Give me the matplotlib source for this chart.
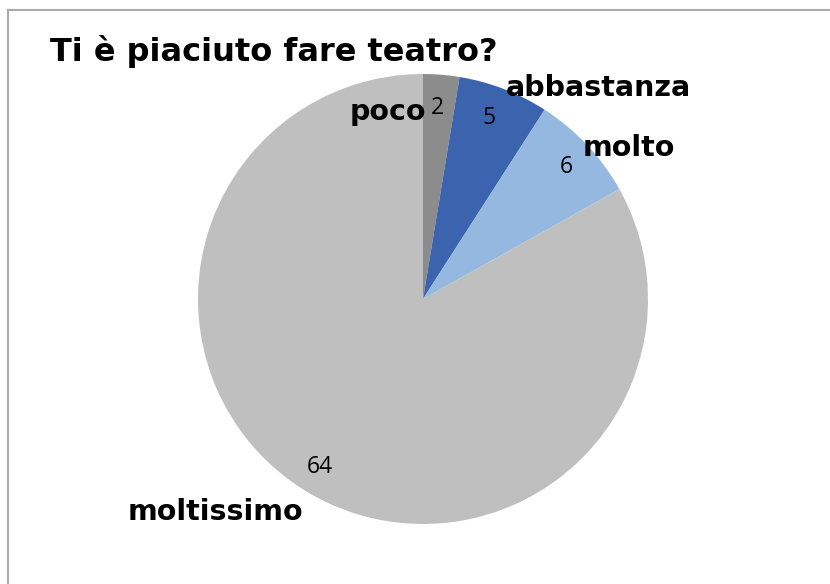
import numpy as np
import matplotlib.pyplot as plt
from matplotlib.lines import Line2D

categories = ['poco', 'abbastanza', 'molto', 'moltissimo']
values = [2, 5, 6, 64]
colors = ['#8c8c8c', '#3c64ae', '#95b8e0', '#bfbfbf']
title = 'Ti è piaciuto fare teatro?'

# label placement (angle in degrees, radius) like the Excel "best fit"
name_pos = [(100.6, 0.845), (50.3, 1.218), (36.2, 1.136), (225.7, 1.323)]
value_pos = [(85.8, 0.85), (70.0, 0.856), (42.7, 0.865), (238.5, 0.876)]

W, H = 830, 584
fig = plt.figure(figsize=(W / 100, H / 100), dpi=100)

cx, cy, r = 423, 299, 225
ax = fig.add_axes([(cx - r) / W, (H - cy - r) / H, 2 * r / W, 2 * r / H])
ax.pie(values, colors=colors, startangle=90, counterclock=False,
       wedgeprops=dict(linewidth=0))
ax.set_xlim(-1, 1)
ax.set_ylim(-1, 1)
ax.set_aspect('equal')

for lab, (a, rr) in zip(categories, name_pos):
    t = np.deg2rad(a)
    ax.text(rr * np.cos(t), rr * np.sin(t), lab, ha='center', va='center',
            fontsize=20.5, fontweight='bold', family='DejaVu Sans', clip_on=False)

for v, (a, rr) in zip(values, value_pos):
    t = np.deg2rad(a)
    ax.text(rr * np.cos(t), rr * np.sin(t), str(v), ha='center', va='center',
            fontsize=16.5, family='Open Sans', clip_on=False)

fig.text(50 / W, 1 - 52 / H, title, ha='left', va='center',
         fontsize=23, fontweight='bold', family='DejaVu Sans')

# chart frame (only top and left edges visible)
fig.add_artist(Line2D([8 / W, 8 / W], [0, 1 - 10 / H], transform=fig.transFigure,
                      color='#aaaaaa', linewidth=1.5))
fig.add_artist(Line2D([8 / W, 1], [1 - 10 / H, 1 - 10 / H], transform=fig.transFigure,
                      color='#aaaaaa', linewidth=1.5))

plt.savefig('out.png', dpi=100)
